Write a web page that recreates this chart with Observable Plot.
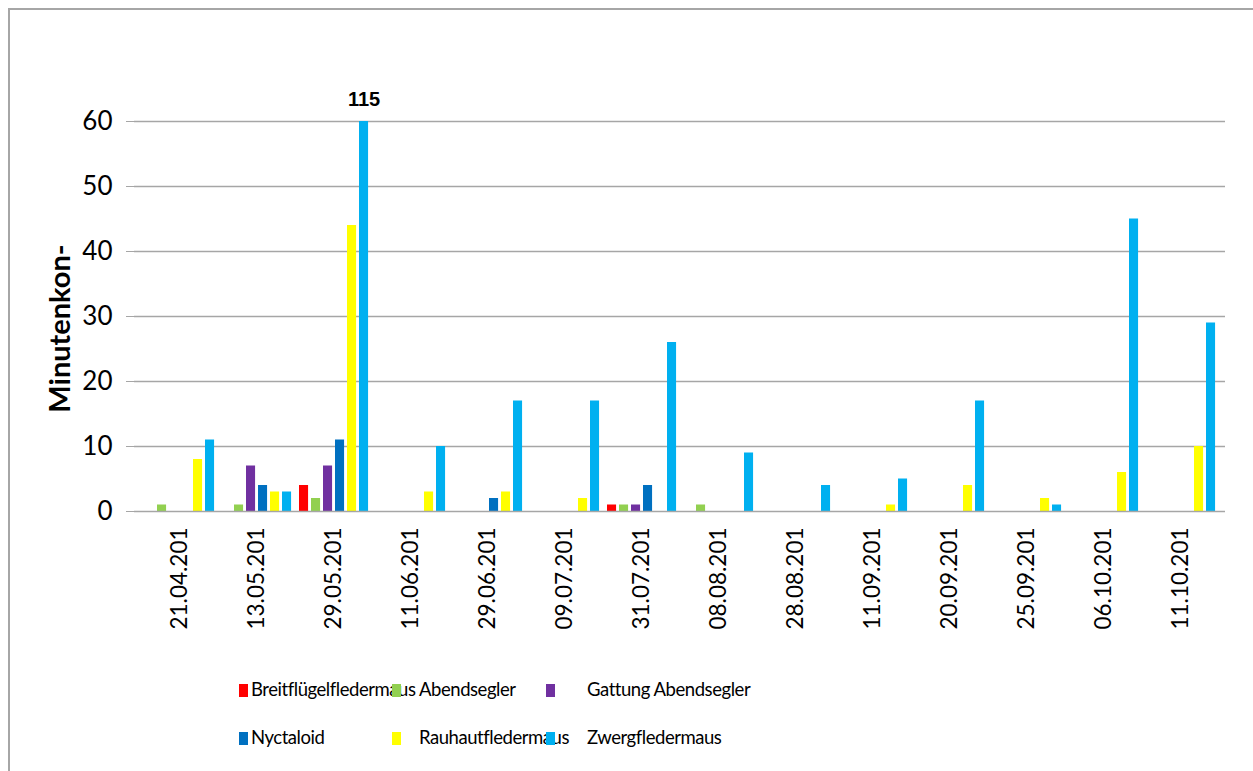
<!DOCTYPE html>
<html>
<head>
<meta charset="utf-8">
<script src="https://cdn.jsdelivr.net/npm/d3@7"></script>
<script src="https://cdn.jsdelivr.net/npm/@observablehq/plot@0.6"></script>
<style>
  html, body { margin: 0; padding: 0; background: #fff; }
  #wrap { position: relative; width: 1253px; height: 771px; overflow: hidden; font-family: Lato, "Open Sans", sans-serif; }
  #frame { position: absolute; left: 8px; top: 8px; width: 1300px; height: 800px; border-left: 2px solid #A6A6A6; border-top: 2px solid #A6A6A6; box-sizing: border-box; }
  #chart { position: absolute; left: 0; top: 0; }
  .lg { position: absolute; font-size: 18.5px; letter-spacing: -0.45px; color: #000; white-space: nowrap; line-height: 1; }
  .mk { position: absolute; width: 9px; height: 13px; }
</style>
</head>
<body>
<div id="wrap">
  <div id="frame"></div>
  <div id="chart"></div>
  <div id="legend"></div>
</div>
<script>
const dates = ["21.04.201","13.05.201","29.05.201","11.06.201","29.06.201","09.07.201","31.07.201","08.08.201","28.08.201","11.09.201","20.09.201","25.09.201","06.10.201","11.10.201"];
const species = ["Breitflügelfledermaus","Abendsegler","Gattung Abendsegler","Nyctaloid","Rauhautfledermaus","Zwergfledermaus"];
const colors = ["#FF0000","#92D050","#7030A0","#0070C0","#FFFF00","#00B0F0"];
const breitfluegel = [0,0,4,0,0,0,1,0,0,0,0,0,0,0];
const abendsegler = [1,1,2,0,0,0,1,1,0,0,0,0,0,0];
const gattungAbendsegler = [0,7,7,0,0,0,1,0,0,0,0,0,0,0];
const nyctaloid = [0,4,11,0,2,0,4,0,0,0,0,0,0,0];
const rauhaut = [8,3,44,3,3,2,0,0,0,1,4,2,6,10];
const zwerg = [11,3,115,10,17,17,26,9,4,5,17,1,45,29];
const yTicks = [0,10,20,30,40,50,60];
const yMax = 60;
const yLabel = "Minutenkon-";

const series = [breitfluegel, abendsegler, gattungAbendsegler, nyctaloid, rauhaut, zwerg];
const rows = [];
series.forEach((vals, si) => vals.forEach((v, di) => { if (v > 0) rows.push({date: dates[di], species: species[si], si, value: v}); }));

const W = 1253, mL = 134, mR = 28;
const band = (W - mL - mR) / dates.length;
const slot = 12, barW = 10, start = 4;

const barMarks = species.map((s, i) => Plot.barY(rows.filter(d => d.si === i), {
  x: "date", y: "value", fill: colors[i],
  insetLeft: start + slot * i,
  insetRight: band - (start + slot * i + barW)
}));

const over = rows.filter(d => d.value > yMax);

const chart = Plot.plot({
  width: W,
  height: 650,
  marginLeft: mL,
  marginRight: mR,
  marginTop: 121,
  marginBottom: 139,
  style: {fontFamily: "Lato, 'Open Sans', sans-serif", fontSize: "22px", color: "#000", background: "transparent"},
  x: {type: "band", domain: dates, padding: 0},
  y: {domain: [0, yMax], clamp: true},
  marks: [
    Plot.ruleY(yTicks.filter(t => t > 0), {stroke: "#A6A6A6", strokeWidth: 1.5}),
    ...barMarks,
    Plot.ruleY([0], {stroke: "#A6A6A6", strokeWidth: 1.5}),
    Plot.axisY({ticks: yTicks, tickSize: 8, tickPadding: 14, label: null, stroke: "#A6A6A6", fontSize: 26, line: true, tickFormat: d => String(d)}),
    Plot.axisX({tickRotate: -90, tickSize: 0, tickPadding: 16, label: null, fontSize: 22.5}),
    Plot.text(over, {x: "date", y: () => yMax, text: d => String(d.value), dx: start + slot * 5 + barW / 2 - band / 2, dy: -22, fontWeight: "bold", fontSize: 20, fontFamily: "'Liberation Sans', Arial, sans-serif"}),
    Plot.text([yLabel], {frameAnchor: "left", text: d => d, rotate: -90, textAnchor: "middle", dx: -74, dy: 12, fontWeight: "bold", fontSize: 29})
  ]
});
document.getElementById("chart").appendChild(chart);

// legend
const legendPos = [
  {mx: 239, tx: 251, y: 690},
  {mx: 392, tx: 419, y: 690},
  {mx: 546, tx: 587, y: 690},
  {mx: 239, tx: 251, y: 738},
  {mx: 392, tx: 419, y: 738},
  {mx: 546, tx: 587, y: 738}
];
const lg = document.getElementById("legend");
species.forEach((s, i) => {
  const p = legendPos[i];
  const t = document.createElement("div");
  t.className = "lg"; t.textContent = s;
  t.style.left = p.tx + "px"; t.style.top = (p.y - 10) + "px";
  lg.appendChild(t);
});
species.forEach((s, i) => {
  const p = legendPos[i];
  const m = document.createElement("div");
  m.className = "mk"; m.style.background = colors[i];
  m.style.left = p.mx + "px"; m.style.top = (p.y - 6) + "px";
  lg.appendChild(m);
});
</script>
</body>
</html>
